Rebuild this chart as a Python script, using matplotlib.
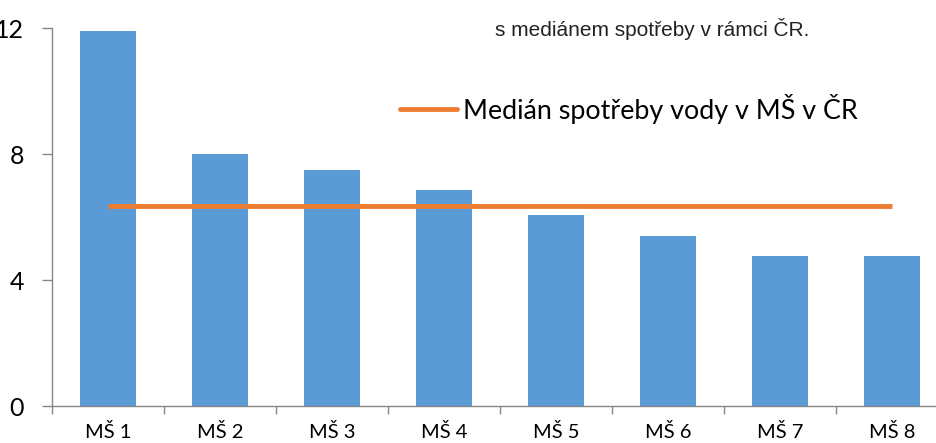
import matplotlib.pyplot as plt
import numpy as np

categories = ['MŠ 1', 'MŠ 2', 'MŠ 3', 'MŠ 4', 'MŠ 5', 'MŠ 6', 'MŠ 7', 'MŠ 8']
spotreba = [11.9, 8.0, 7.5, 6.85, 6.05, 5.4, 4.75, 4.75]
median_cr = 6.35
y_ticks = [0, 4, 8, 12]
legend_label = 'Medián spotřeby vody v MŠ v ČR'
top_note = 's mediánem spotřeby v rámci ČR.'

W, H = 936, 443
fig = plt.figure(figsize=(W / 100, H / 100), dpi=100)
# axes: left edge at x=52px, 0 at y=406px, 12 at y=28px, 8 categories 112px wide
ax = fig.add_axes([52 / W, (H - 406) / H, 112 * 8 / W, (406 - 28) / H])

x = np.arange(len(categories))
ax.bar(x, spotreba, width=0.5, color='#5B9BD5', zorder=2)
ax.plot([x[0], x[-1]], [median_cr, median_cr], color='#ED7D31', lw=3.5,
        solid_capstyle='butt', zorder=3)

ax.set_xlim(-0.5, len(categories) - 0.5)
ax.set_ylim(0, 12)

for side in ['top', 'right']:
    ax.spines[side].set_visible(False)
for side in ['left', 'bottom']:
    ax.spines[side].set_color('#868686')
    ax.spines[side].set_linewidth(1.0)

ax.set_yticks(y_ticks)
ax.set_yticklabels([str(v) for v in y_ticks], fontsize=18, family='Lato')
ax.tick_params(axis='y', length=7, width=1, color='#868686', pad=13)

ax.set_xticks(x)
ax.set_xticklabels(categories, fontsize=14.5, family='Lato')
ax.set_xticks(np.arange(len(categories) + 1) - 0.5, minor=True)
ax.tick_params(axis='x', which='major', length=0, pad=12.5)
ax.tick_params(axis='x', which='minor', length=6, width=1, color='#868686')

# legend drawn as a line + text in figure pixels
fig.add_artist(plt.Line2D([400 / W, 457 / W], [1 - 109 / H, 1 - 109 / H],
                          color='#ED7D31', lw=3.5, solid_capstyle='round'))
fig.text(463 / W, 1 - 109 / H, legend_label, fontsize=19.4, family='Lato',
         va='center', ha='left')

fig.text(495 / W, 1 - 29 / H, top_note, fontsize=15, family='Liberation Sans',
         va='center', ha='left', color='#222222')

fig.savefig('out.png', dpi=100)
